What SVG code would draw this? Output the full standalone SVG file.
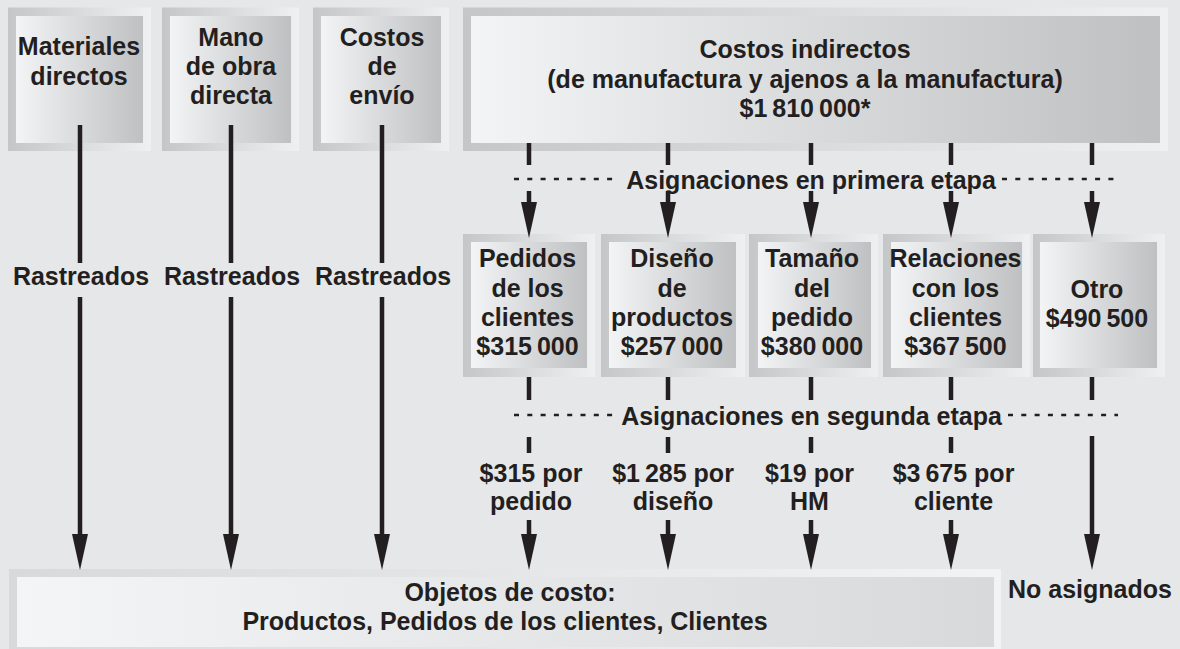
<svg xmlns="http://www.w3.org/2000/svg" width="1180" height="649" viewBox="0 0 1180 649">
<style>
text{font-family:"Liberation Sans",Arial,Helvetica,sans-serif;font-weight:bold;font-size:25px;fill:#231f20;text-anchor:middle}
.ln{stroke:#231f20;stroke-width:4.5;fill:none}
.ar{stroke:#231f20;stroke-width:4.5;fill:none;marker-end:url(#ah)}
.dash{stroke:#231f20;stroke-width:2.6;stroke-dasharray:5 8.3;fill:none}
.o{fill:url(#gO)}
.i{fill:url(#gI)}
.ob{fill:url(#gOB)}
.ib{fill:url(#gIB)}
</style>
<defs>
<linearGradient id="gO" x1="0" y1="0" x2="1" y2="0"><stop offset="0" stop-color="#c5c6c8"/><stop offset="1" stop-color="#eff0f1"/></linearGradient>
<linearGradient id="gI" x1="0" y1="0" x2="1" y2="0"><stop offset="0" stop-color="#f3f4f5"/><stop offset="1" stop-color="#bfc0c2"/></linearGradient>
<linearGradient id="gOB" x1="0" y1="0" x2="1" y2="0"><stop offset="0" stop-color="#d8d9db"/><stop offset="1" stop-color="#f2f3f4"/></linearGradient>
<linearGradient id="gIB" x1="0" y1="0" x2="1" y2="0"><stop offset="0" stop-color="#f4f5f6"/><stop offset="1" stop-color="#d8d9db"/></linearGradient>
<marker id="ah" viewBox="0 0 36 16" refX="3" refY="8" markerWidth="36" markerHeight="16" markerUnits="userSpaceOnUse" orient="auto"><path d="M0,0 L36,8 L0,16 z" fill="#231f20"/></marker>
</defs>
<rect width="1180" height="649" fill="#e6e7e9"/>

<g id="n-materiales">
<rect class="o" x="8" y="7.5" width="143" height="143.5"/>
<rect class="i" x="16" y="16" width="127" height="127"/>
<text x="79" y="55">Materiales</text>
<text x="79" y="84.5">directos</text>
</g>
<g id="n-manoobra">
<rect class="o" x="162" y="7.5" width="137" height="143.5"/>
<rect class="i" x="170" y="16" width="121" height="127"/>
<text x="231" y="46">Mano</text>
<text x="231" y="75">de obra</text>
<text x="231" y="104">directa</text>
</g>
<g id="n-envio">
<rect class="o" x="313" y="7.5" width="136" height="143.5"/>
<rect class="i" x="321" y="16" width="120" height="127"/>
<text x="382" y="46">Costos</text>
<text x="382" y="75">de</text>
<text x="382" y="104">envío</text>
</g>
<g id="n-indirectos">
<rect class="o" x="463" y="7.5" width="705" height="143.5"/>
<rect class="i" x="471" y="16" width="689" height="127"/>
<text x="805" y="58">Costos indirectos</text>
<text x="805" y="87.5">(de manufactura y ajenos a la manufactura)</text>
<text x="805" y="117">$1&#8201;810&#8201;000*</text>
</g>

<g id="n-pedidos">
<rect class="o" x="463" y="234" width="132" height="143"/>
<rect class="i" x="471" y="242" width="116" height="126"/>
<text x="527.5" y="267">Pedidos</text>
<text x="527.5" y="296.5">de los</text>
<text x="527.5" y="326">clientes</text>
<text x="527.5" y="355">$315&#8201;000</text>
</g>
<g id="n-diseno">
<rect class="o" x="601" y="234" width="144" height="143"/>
<rect class="i" x="609" y="242" width="127" height="126"/>
<text x="672" y="267">Diseño</text>
<text x="672" y="296.5">de</text>
<text x="672" y="326">productos</text>
<text x="672" y="355">$257&#8201;000</text>
</g>
<g id="n-tamano">
<rect class="o" x="749" y="234" width="129" height="143"/>
<rect class="i" x="758" y="242" width="113" height="126"/>
<text x="812" y="267">Tamaño</text>
<text x="812" y="296.5">del</text>
<text x="812" y="326">pedido</text>
<text x="812" y="355">$380&#8201;000</text>
</g>
<g id="n-relaciones">
<rect class="o" x="883" y="234" width="147" height="143"/>
<rect class="i" x="891" y="242" width="131" height="126"/>
<text x="955.5" y="267">Relaciones</text>
<text x="955.5" y="296.5">con los</text>
<text x="955.5" y="326">clientes</text>
<text x="955.5" y="355">$367&#8201;500</text>
</g>
<g id="n-otro">
<rect class="o" x="1033" y="234" width="132" height="143"/>
<rect class="i" x="1040" y="242" width="117" height="126"/>
<text x="1097" y="297.5">Otro</text>
<text x="1097" y="326.5">$490&#8201;500</text>
</g>

<g id="n-objetos">
<rect class="ob" x="9" y="569" width="992" height="84"/>
<rect class="ib" x="17" y="577" width="977" height="70"/>
<text x="510" y="600.5">Objetos de costo:</text>
<text x="505" y="630">Productos, Pedidos de los clientes, Clientes</text>
</g>
<g id="n-noasignados">
<text x="1090" y="598">No asignados</text>
</g>

<g id="connectors">
<line class="ln" x1="80" y1="125" x2="80" y2="263"/>
<line class="ar" x1="80" y1="297" x2="80" y2="537"/>
<line class="ln" x1="231" y1="125" x2="231" y2="263"/>
<line class="ar" x1="231" y1="297" x2="231" y2="537"/>
<line class="ln" x1="382" y1="125" x2="382" y2="263"/>
<line class="ar" x1="382" y1="297" x2="382" y2="537"/>
<text x="81" y="285">Rastreados</text>
<text x="232" y="285">Rastreados</text>
<text x="383" y="285">Rastreados</text>

<line class="ln" x1="529" y1="143" x2="529" y2="165"/>
<line class="ln" x1="668" y1="143" x2="668" y2="165"/>
<line class="ln" x1="811" y1="143" x2="811" y2="165"/>
<line class="ln" x1="951" y1="143" x2="951" y2="165"/>
<line class="ln" x1="1092" y1="143" x2="1092" y2="165"/>
<line class="dash" x1="514" y1="179" x2="613" y2="179"/>
<line class="dash" x1="1002" y1="179" x2="1116" y2="179"/>
<text x="811" y="189">Asignaciones en primera etapa</text>
<line class="ar" x1="529" y1="191" x2="529" y2="205"/>
<line class="ar" x1="668" y1="191" x2="668" y2="205"/>
<line class="ar" x1="811" y1="191" x2="811" y2="205"/>
<line class="ar" x1="951" y1="191" x2="951" y2="205"/>
<line class="ar" x1="1092" y1="191" x2="1092" y2="205"/>

<line class="ln" x1="529" y1="377" x2="529" y2="400"/>
<line class="ln" x1="668" y1="377" x2="668" y2="400"/>
<line class="ln" x1="811" y1="377" x2="811" y2="400"/>
<line class="ln" x1="951" y1="377" x2="951" y2="400"/>
<line class="ln" x1="1092" y1="377" x2="1092" y2="400"/>
<line class="dash" x1="514" y1="415" x2="616" y2="415"/>
<line class="dash" x1="1008" y1="415" x2="1118" y2="415"/>
<text x="811.5" y="425">Asignaciones en segunda etapa</text>
<line class="ln" x1="529" y1="437" x2="529" y2="453"/>
<line class="ln" x1="668" y1="437" x2="668" y2="453"/>
<line class="ln" x1="811" y1="437" x2="811" y2="453"/>
<line class="ln" x1="951" y1="437" x2="951" y2="453"/>
<text x="531" y="481.5">$315 por</text>
<text x="531" y="510">pedido</text>
<text x="673" y="481.5">$1&#8201;285 por</text>
<text x="673" y="510">diseño</text>
<text x="809.5" y="481.5">$19 por</text>
<text x="809.5" y="510">HM</text>
<text x="953.5" y="481.5">$3&#8201;675 por</text>
<text x="953.5" y="510">cliente</text>
<line class="ar" x1="529" y1="520" x2="529" y2="537"/>
<line class="ar" x1="668" y1="520" x2="668" y2="537"/>
<line class="ar" x1="811" y1="520" x2="811" y2="537"/>
<line class="ar" x1="951" y1="520" x2="951" y2="537"/>
<line class="ar" x1="1092" y1="436" x2="1092" y2="537"/>
</g>
</svg>
